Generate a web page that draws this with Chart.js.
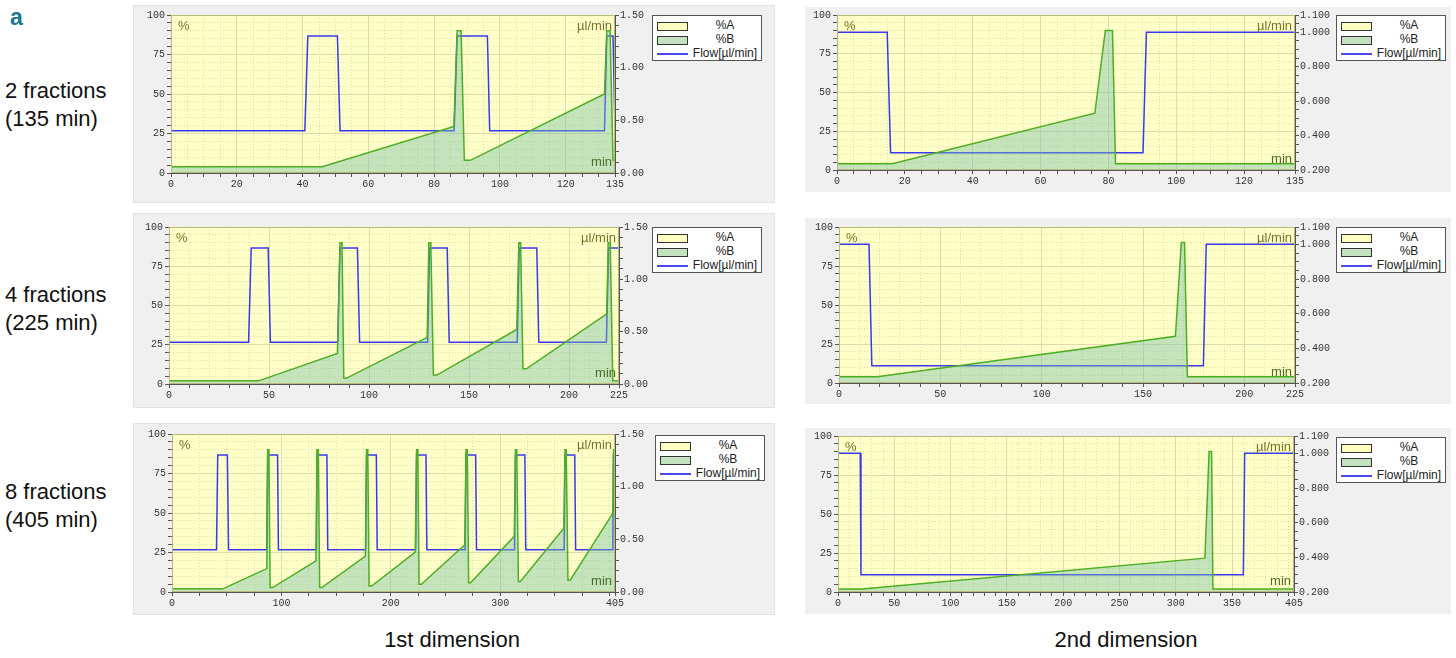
<!DOCTYPE html>
<html>
<head>
<meta charset="utf-8">
<script src="https://cdn.jsdelivr.net/npm/chart.js@4.4.1/dist/chart.umd.min.js"></script>
<style>
  body { margin: 0; width: 1456px; height: 658px; position: relative; overflow: hidden; background: #fff;
         font-family: "Liberation Sans", Arial, sans-serif; }
  .panel { position: absolute; background: #f0f0f0; }
  .panel.left { box-shadow: inset 0 0 0 1px #e2e2e2; }
  .legend { position: absolute; width: 110px; height: 46px; background: #fff; border: 1px solid #555;
            box-sizing: border-box; font-size: 12px; color: #222; }
  .legend .row { position: absolute; left: 0; width: 100%; height: 15px; }
  .legend .sw { position: absolute; left: 4px; top: 4px; width: 29px; height: 7px; border: 1px solid #333; }
  .legend .ln { position: absolute; left: 4px; top: 7px; width: 31px; height: 1.5px; background: #4a4aec; }
  .legend .txt { position: absolute; left: 37px; width: 70px; top: 0; line-height: 15px; text-align: center; }
  .lbl { position: absolute; font-size: 22px; line-height: 28px; color: #111; }
  .tag { position: absolute; left: 10px; top: 4px; font-size: 23px; line-height: 26px; font-weight: bold; color: #1a7894; }
  .dim { position: absolute; width: 300px; text-align: center; font-size: 22px; line-height: 28px; top: 626px; color: #111; }
</style>
</head>
<body>
<div class="tag">a</div>
<div class="lbl" style="left:5px;top:77px">2 fractions<br>(135 min)</div>
<div class="lbl" style="left:5px;top:281px">4 fractions<br>(225 min)</div>
<div class="lbl" style="left:5px;top:478px">8 fractions<br>(405 min)</div>
<div class="dim" style="left:302px">1st dimension</div>
<div class="dim" style="left:976px">2nd dimension</div>

<script>
// tick labels
const x135Labels = [0, 20, 40, 60, 80, 100, 120, 135];
const x225Labels = [0, 50, 100, 150, 200, 225];
const x405Labels1 = [0, 100, 200, 300, 405];
const x405Labels2 = [0, 50, 100, 150, 200, 250, 300, 350, 405];
const pctLabels = [0, 25, 50, 75, 100];
const flow1Labels = [0, 0.5, 1.0, 1.5];
const flow2Labels = [0.2, 0.4, 0.6, 0.8, 1.0, 1.1];

// 1st dimension, 2 fractions (135 min): [min, value]
const d1f2B = [[0, 4], [46, 4], [86, 29.5], [87, 90], [88.2, 90], [89.2, 8], [91, 8], [131.8, 50],
  [132.5, 90], [133.5, 90], [134.4, 8], [135, 8]];
const d1f2Flow = [[0, 0.4], [40.7, 0.4], [41.6, 1.3], [50.6, 1.3], [51.4, 0.4], [86.1, 0.4], [87, 1.3],
  [96.2, 1.3], [96.9, 0.4], [131.8, 0.4], [132.5, 1.3], [134.4, 1.3], [135, 0.4]];

// 2nd dimension, 2 fractions
const d2f2B = [[0, 4], [16.3, 4], [76, 36.6], [79.1, 90], [81.2, 90], [82.1, 4], [135, 4]];
const d2f2Flow = [[0, 1.0], [14.8, 1.0], [15.8, 0.3], [90.2, 0.3], [91.2, 1.0], [135, 1.0]];

// 1st dimension, 4 fractions (225 min)
const d1f4B = [[0, 2], [44.8, 2], [84.2, 19.5], [85.5, 90], [86.5, 90], [87.4, 3.6], [88.6, 3.6],
  [129.1, 29.7], [129.9, 90], [130.9, 90], [132.2, 5.7], [133.9, 5.7], [173.9, 34.7], [174.9, 90],
  [175.8, 90], [177, 9.7], [178.7, 9.7], [218.9, 44.7], [219.6, 90], [220.6, 90], [221.9, 2], [225, 2]];
const d1f4Flow = [[0, 0.4], [39.8, 0.4], [41.1, 1.3], [49.6, 1.3], [50.7, 0.4], [84.4, 0.4], [85.5, 1.3],
  [94.2, 1.3], [95.3, 0.4], [129.3, 0.4], [130.3, 1.3], [139.1, 1.3], [140.1, 0.4], [174.1, 0.4],
  [175.1, 1.3], [183.9, 1.3], [184.9, 0.4], [218.7, 0.4], [219.8, 1.3], [225, 1.3]];

// 2nd dimension, 4 fractions
const d2f4B = [[0, 4], [18.9, 4], [166, 29.9], [168.9, 90], [170.5, 90], [171.9, 4], [225, 4]];
const d2f4Flow = [[0, 1.0], [14.8, 1.0], [16.2, 0.3], [179.8, 0.3], [181.2, 1.0], [225, 1.0]];

// 1st dimension, 8 fractions (405 min)
const d1f8B = [[0, 2], [46.4, 2], [86.7, 14.8], [87.5, 90], [88.6, 90], [89.7, 2.8], [92, 2.8],
  [131.6, 19.7], [132.5, 90], [133.8, 90], [135, 2.8], [137, 2.8], [176.8, 22.7], [177.9, 90],
  [179, 90], [180.2, 3.8], [182.5, 3.8], [222.4, 25.2], [223.6, 90], [224.7, 90], [225.9, 4.9],
  [228, 4.9], [267.7, 29.9], [268.8, 90], [270, 90], [271.2, 5.9], [273, 5.9], [312.9, 35.2],
  [314, 90], [315.2, 90], [316.7, 6.6], [318.5, 6.6], [358.2, 40.3], [359.3, 90], [360.4, 90],
  [362, 7.5], [364, 7.5], [403, 49.8], [403.7, 90], [404.3, 90], [405, 8]];
const d1f8Flow = [[0, 0.4], [40.7, 0.4], [41.8, 1.3], [50.6, 1.3], [51.7, 0.4], [86.7, 0.4], [87.5, 1.3],
  [96.5, 1.3], [97.3, 0.4], [132, 0.4], [132.7, 1.3], [141.6, 1.3], [142.4, 0.4], [177.1, 0.4],
  [177.9, 1.3], [186.8, 1.3], [187.6, 0.4], [222.8, 0.4], [223.6, 1.3], [232.2, 1.3], [233, 0.4],
  [268, 0.4], [268.8, 1.3], [277.6, 1.3], [278.4, 0.4], [313.2, 0.4], [314, 1.3], [322.6, 1.3],
  [323.4, 0.4], [358.5, 0.4], [359.3, 1.3], [368.2, 1.3], [369, 0.4], [403, 0.4], [403.6, 1.3], [405, 1.3]];

// 2nd dimension, 8 fractions
const d2f8B = [[0, 2], [21.5, 2], [325.9, 21.7], [329.6, 90], [331.8, 90], [333, 2], [405, 2]];
const d2f8Flow = [[0, 1.0], [19.7, 1.0], [20.4, 0.3], [360, 0.3], [361.2, 1.0], [405, 1.0]];

const GREEN = '#4cae22';
const GREEN_FILL = 'rgba(120,190,170,0.42)';
const BLUE = '#3a3aec';
const PLOT_BG = '#ffffc8';
const TICK_FONT = { family: '"Liberation Mono", "DejaVu Sans Mono", monospace', size: 10 };

const panels = [
  { box: { x: 133, y: 5, w: 642, h: 198 }, plot: { l: 171, t: 15, r: 615, b: 173 }, legend: [652, 15],
    xMax: 135, xStep: 5, xLabels: x135Labels, fMin: 0, fMax: 1.5, fStep: 0.1, fLabels: flow1Labels, fDec: 2,
    b: d1f2B, flow: d1f2Flow, left: true },
  { box: { x: 805, y: 7, w: 646, h: 185 }, plot: { l: 837, t: 15, r: 1295, b: 170 }, legend: [1336, 15],
    xMax: 135, xStep: 5, xLabels: x135Labels, fMin: 0.2, fMax: 1.1, fStep: 0.05, fLabels: flow2Labels, fDec: 3,
    b: d2f2B, flow: d2f2Flow },
  { box: { x: 133, y: 213, w: 642, h: 195 }, plot: { l: 169, t: 227, r: 619, b: 384 }, legend: [652, 227],
    xMax: 225, xStep: 10, xLabels: x225Labels, fMin: 0, fMax: 1.5, fStep: 0.1, fLabels: flow1Labels, fDec: 2,
    b: d1f4B, flow: d1f4Flow, left: true },
  { box: { x: 805, y: 218, w: 646, h: 186 }, plot: { l: 839, t: 227, r: 1295, b: 383 }, legend: [1336, 227],
    xMax: 225, xStep: 10, xLabels: x225Labels, fMin: 0.2, fMax: 1.1, fStep: 0.05, fLabels: flow2Labels, fDec: 3,
    b: d2f4B, flow: d2f4Flow },
  { box: { x: 133, y: 423, w: 642, h: 192 }, plot: { l: 172, t: 434, r: 615, b: 592 }, legend: [655, 435],
    xMax: 405, xStep: 25, xLabels: x405Labels1, fMin: 0, fMax: 1.5, fStep: 0.1, fLabels: flow1Labels, fDec: 2,
    b: d1f8B, flow: d1f8Flow, left: true },
  { box: { x: 805, y: 428, w: 646, h: 186 }, plot: { l: 838, t: 436, r: 1294, b: 592 }, legend: [1336, 437],
    xMax: 405, xStep: 10, xLabels: x405Labels2, fMin: 0.2, fMax: 1.1, fStep: 0.05, fLabels: flow2Labels, fDec: 3,
    b: d2f8B, flow: d2f8Flow }
];

// tick positions along an axis (minor step plus labelled values)
function tickValues(min, max, step, labels) {
  const vals = [];
  for (let i = 0; min + i * step <= max + 1e-9; i++) vals.push(+(min + i * step).toFixed(4));
  labels.forEach(l => { if (!vals.some(v => Math.abs(v - l) < 1e-6)) vals.push(l); });
  return vals.sort((a, b) => a - b);
}
const isLabel = (v, labels) => labels.some(l => Math.abs(l - v) < 1e-6);
const toXY = arr => arr.map(([x, y]) => ({ x, y }));

// yellow plot background, frame and unit captions
const plotDecor = {
  id: 'plotDecor',
  beforeDraw(chart) {
    const { ctx, chartArea: a } = chart;
    ctx.save();
    ctx.fillStyle = PLOT_BG;
    ctx.fillRect(a.left, a.top, a.width, a.height);
    ctx.restore();
  },
  afterDraw(chart) {
    const { ctx, chartArea: a } = chart;
    ctx.save();
    ctx.strokeStyle = '#b9b97a';
    ctx.lineWidth = 1;
    ctx.strokeRect(a.left + 0.5, a.top + 0.5, a.width - 1, a.height - 1);
    ctx.font = '13px "Liberation Sans", Arial, sans-serif';
    ctx.fillStyle = '#74742a';
    ctx.textBaseline = 'top';
    ctx.textAlign = 'left';
    ctx.fillText('%', a.left + 7, a.top + 5);
    ctx.textAlign = 'right';
    ctx.fillText('µl/min', a.right - 3, a.top + 5);
    ctx.textBaseline = 'bottom';
    ctx.fillStyle = '#4d6a2a';
    ctx.fillText('min', a.right - 3, a.bottom - 4);
    ctx.restore();
  }
};

function gridColor(labels, major, minor) {
  return ctx => (ctx.tick && isLabel(ctx.tick.value, labels)) ? major : minor;
}
function gridDash(labels) {
  return ctx => (ctx.tick && !isLabel(ctx.tick.value, labels)) ? [1, 2] : [];
}

function addLegend(x, y) {
  const lg = document.createElement('div');
  lg.className = 'legend';
  lg.style.left = x + 'px';
  lg.style.top = y + 'px';
  lg.innerHTML =
    '<div class="row" style="top:2px"><div class="sw" style="background:#ffffc0"></div><div class="txt">%A</div></div>' +
    '<div class="row" style="top:16px"><div class="sw" style="background:#c4e2c0"></div><div class="txt">%B</div></div>' +
    '<div class="row" style="top:30px"><div class="ln"></div><div class="txt">Flow[µl/min]</div></div>';
  document.body.appendChild(lg);
}

function makePanel(p) {
  const wrap = document.createElement('div');
  wrap.className = 'panel' + (p.left ? ' left' : '');
  Object.assign(wrap.style, {
    left: p.box.x + 'px', top: p.box.y + 'px', width: p.box.w + 'px', height: p.box.h + 'px'
  });
  const canvas = document.createElement('canvas');
  wrap.appendChild(canvas);
  document.body.appendChild(wrap);

  const L = 30, R = 44;
  const avail = p.box.h - (p.plot.b - p.box.y);
  const B = Math.min(18, avail);
  const pad = {
    left: p.plot.l - p.box.x - L,
    top: p.plot.t - p.box.y,
    right: p.box.w - (p.plot.r - p.box.x) - R,
    bottom: avail - B
  };

  const xTicks = tickValues(0, p.xMax, p.xStep, p.xLabels);
  const yTicks = tickValues(0, 100, 5, pctLabels);
  const fTicks = tickValues(p.fMin, p.fMax, p.fStep, p.fLabels);

  new Chart(canvas, {
    type: 'line',
    data: {
      datasets: [
        { label: '%B', data: toXY(p.b), yAxisID: 'y', borderColor: GREEN, borderWidth: 1.5,
          backgroundColor: GREEN_FILL, fill: 'origin', pointRadius: 0, tension: 0 },
        { label: 'Flow[µl/min]', data: toXY(p.flow), yAxisID: 'y1', borderColor: BLUE, borderWidth: 1.5,
          fill: false, pointRadius: 0, tension: 0 }
      ]
    },
    options: {
      responsive: true,
      maintainAspectRatio: false,
      animation: false,
      events: [],
      layout: { padding: pad },
      plugins: { legend: { display: false }, tooltip: { enabled: false } },
      scales: {
        x: {
          type: 'linear', min: 0, max: p.xMax,
          afterBuildTicks: s => { s.ticks = xTicks.map(v => ({ value: v })); },
          afterFit: s => { s.height = B; },
          ticks: {
            autoSkip: false, maxRotation: 0, padding: 1, color: '#333', font: TICK_FONT,
            callback: v => isLabel(v, p.xLabels) ? String(v) : ''
          },
          grid: {
            color: gridColor(p.xLabels, '#dedcae', 'rgba(200,200,140,0.55)'),
            tickColor: '#555', tickLength: 4, lineWidth: 1
          },
          border: { color: '#555', dash: gridDash(p.xLabels) }
        },
        y: {
          position: 'left', min: 0, max: 100,
          afterBuildTicks: s => { s.ticks = yTicks.map(v => ({ value: v })); },
          afterFit: s => { s.width = L; },
          ticks: {
            autoSkip: false, padding: 2, color: '#333', font: TICK_FONT,
            callback: v => isLabel(v, pctLabels) ? String(v) : ''
          },
          grid: {
            color: gridColor(pctLabels, '#dedcae', 'rgba(200,200,140,0.55)'),
            tickColor: '#555', tickLength: 4, lineWidth: 1
          },
          border: { color: '#555', dash: gridDash(pctLabels) }
        },
        y1: {
          position: 'right', min: p.fMin, max: p.fMax,
          afterBuildTicks: s => { s.ticks = fTicks.map(v => ({ value: v })); },
          afterFit: s => { s.width = R; },
          ticks: {
            autoSkip: false, padding: 1, color: '#333', font: TICK_FONT,
            callback: v => isLabel(v, p.fLabels) ? Number(v).toFixed(p.fDec) : ''
          },
          grid: { drawOnChartArea: false, tickColor: '#555', tickLength: 4 },
          border: { color: '#555' }
        }
      }
    },
    plugins: [plotDecor]
  });

  addLegend(p.legend[0], p.legend[1]);
}

document.addEventListener('DOMContentLoaded', () => panels.forEach(makePanel));
</script>
</body>
</html>
